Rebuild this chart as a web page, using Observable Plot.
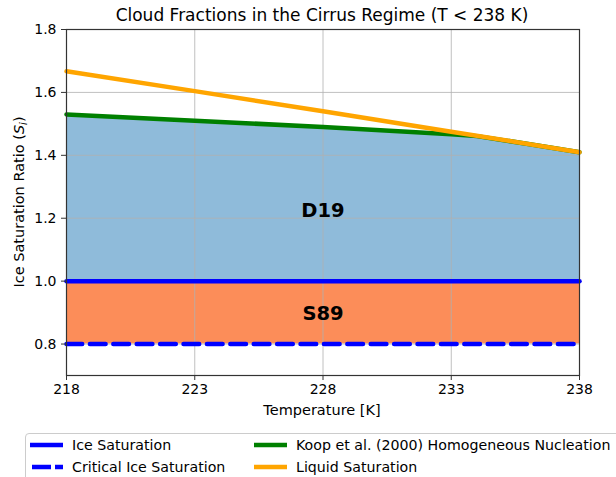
<!DOCTYPE html>
<html>
<head>
<meta charset="utf-8">
<script src="https://cdn.jsdelivr.net/npm/d3@7"></script>
<script src="https://cdn.jsdelivr.net/npm/@observablehq/plot@0.6"></script>
<style>
  body { margin: 0; background: #fff; font-family: "DejaVu Sans", sans-serif; width: 616px; height: 477px; overflow: hidden; position: relative; }
  #title { height: 14px; position: relative; font-size: 17px; }
  #title span { position: absolute; left: 322px; transform: translateX(-50%); white-space: nowrap; top: 5px; line-height: 20px; }
  #legend { position: absolute; left: 25px; top: 433px; width: 620px; height: 60px; border: 1px solid #cccccc; border-radius: 4px; font-size: 14.2px; color: #000; }
  .item { position: absolute; display: flex; align-items: center; white-space: nowrap; height: 20px; }
  .item svg { margin-right: 9px; }
</style>
</head>
<body>
<div id="title"><span>Cloud Fractions in the Cirrus Regime (T &lt; 238 K)</span></div>
<div id="chart"></div>
<div id="legend"></div>
<script>
const temps = [218, 223, 228, 233, 238];
const liquidSat = [1.667, 1.604, 1.540, 1.475, 1.410];
const koopTemps = [218, 223, 228, 233, 234, 236, 238];
const koopSat = [1.530, 1.510, 1.490, 1.467, 1.461, 1.436, 1.410];
const iceSat = 1.0;
const critIceSat = 0.8;
const xTicks = [218, 223, 228, 233, 238];
const yTicks = [0.8, 1.0, 1.2, 1.4, 1.6, 1.8];
const regionLabels = [
  {label: "D19", t: 228, s: 1.225},
  {label: "S89", t: 228, s: 0.897}
];
const legendItems = [
  {name: "Ice Saturation", color: "blue", dash: null},
  {name: "Critical Ice Saturation", color: "blue", dash: "19,4"},
  {name: "Koop et al. (2000) Homogeneous Nucleation", color: "green", dash: null},
  {name: "Liquid Saturation", color: "orange", dash: null}
];

const liquid = temps.map((t, i) => ({t, s: liquidSat[i]}));
const koop = koopTemps.map((t, i) => ({t, s: koopSat[i]}));
const flat = [218, 238];

const plot = Plot.plot({
  width: 616,
  height: 419,
  marginLeft: 66,
  marginRight: 37,
  marginTop: 15,
  marginBottom: 58,
  style: {fontFamily: "DejaVu Sans, sans-serif", fontSize: "14px", color: "#000", background: "#fff", overflow: "visible"},
  x: {domain: [218, 238], label: null},
  y: {domain: [0.7, 1.8], label: null},
  marks: [
    Plot.areaY(koop, {x: "t", y1: iceSat, y2: "s", fill: "#8fbbda", curve: "linear"}),
    Plot.areaY(flat, {x: d => d, y1: critIceSat, y2: iceSat, fill: "#fc8d59"}),
    Plot.gridX(xTicks, {stroke: "#b0b0b0", strokeOpacity: 1, strokeWidth: 0.8}),
    Plot.gridY(yTicks, {stroke: "#b0b0b0", strokeOpacity: 1, strokeWidth: 0.8}),
    Plot.line(koop, {x: "t", y: "s", stroke: "green", strokeWidth: 4.5}),
    Plot.line(liquid, {x: "t", y: "s", stroke: "orange", strokeWidth: 4.5}),
    Plot.line(flat, {x: d => d, y: () => iceSat, stroke: "blue", strokeWidth: 4.5}),
    Plot.line(flat, {x: d => d, y: () => critIceSat, stroke: "blue", strokeWidth: 4.5, strokeDasharray: "15.7,7.7"}),
    Plot.text(regionLabels, {x: "t", y: "s", text: "label", fontWeight: "bold", fontSize: 19.5, fill: "#000"}),
    Plot.axisX(xTicks, {tickFormat: d => String(d), tickSize: 5, tickPadding: 4, fontSize: 14, stroke: "#333"}),
    Plot.axisY(yTicks, {tickFormat: d => d.toFixed(1), tickSize: 5, tickPadding: 5, fontSize: 14, stroke: "#333"}),
    Plot.frame({stroke: "#333", strokeWidth: 1.2})
  ]
});
document.getElementById("chart").appendChild(plot);

const svg = d3.select(plot);
svg.append("text")
  .attr("x", 322).attr("y", 401)
  .attr("text-anchor", "middle")
  .attr("font-size", 14.5)
  .attr("fill", "#000")
  .text("Temperature [K]");
const yl = svg.append("text")
  .attr("transform", "translate(24,188) rotate(-90)")
  .attr("text-anchor", "middle")
  .attr("font-size", 14.5)
  .attr("fill", "#000");
yl.append("tspan").text("Ice Saturation Ratio (");
yl.append("tspan").attr("font-style", "italic").text("S");
yl.append("tspan").attr("font-style", "italic").attr("font-size", 10).attr("dy", 3).text("i");
yl.append("tspan").attr("dy", -3).text(")");

const legend = d3.select("#legend");
const pos = [[3, 1], [3, 23], [227, 1], [227, 23]];
legendItems.forEach((it, i) => {
  const d = legend.append("div").attr("class", "item")
    .style("left", pos[i][0] + "px").style("top", pos[i][1] + "px");
  const s = d.append("svg").attr("width", 34).attr("height", 20);
  s.append("line").attr("x1", it.dash ? 3 : 1).attr("x2", 34).attr("y1", 10).attr("y2", 10)
    .attr("stroke", it.color).attr("stroke-width", 4.5)
    .attr("stroke-dasharray", it.dash);
  d.append("span").text(it.name);
});
</script>
</body>
</html>
